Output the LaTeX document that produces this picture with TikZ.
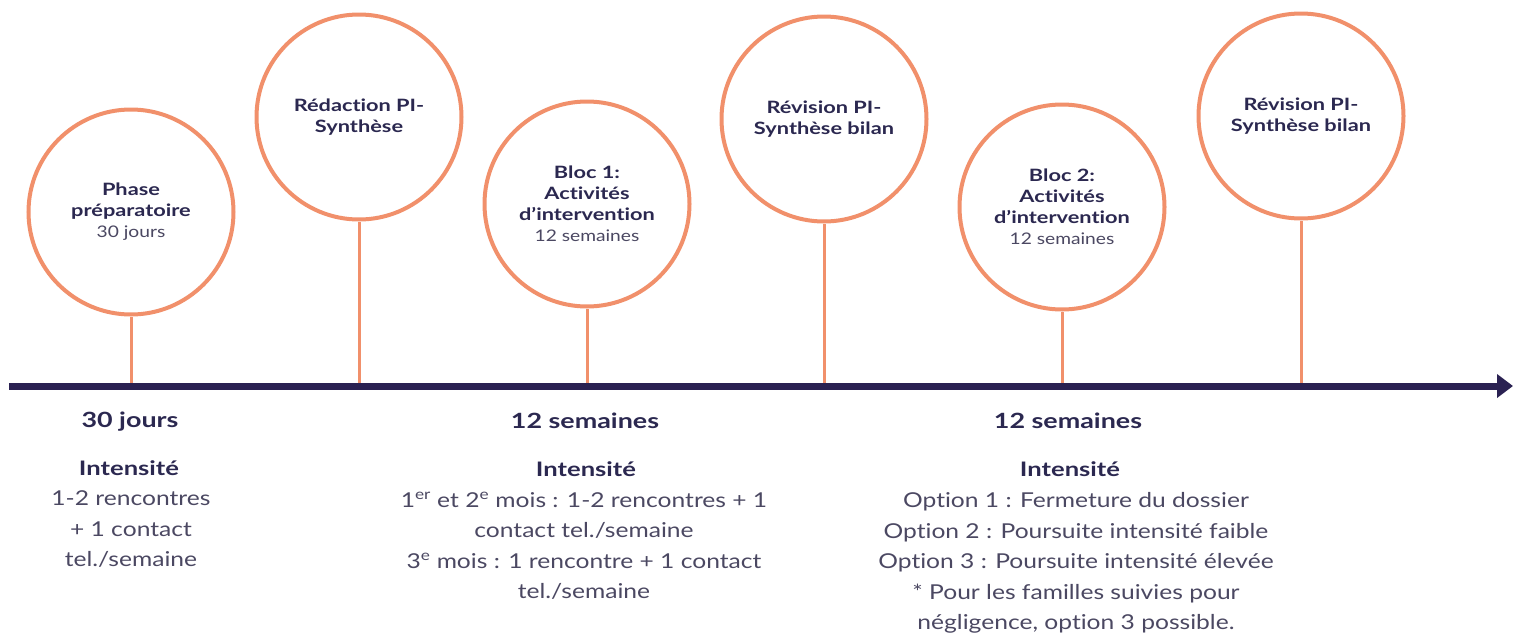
\documentclass[tikz,border=0pt]{standalone}
\usepackage{fontspec}
\setmainfont{Lato}[Ligatures={NoCommon,NoRare}]
\newfontfamily\bodyfont{Lato}[FakeStretch=1.2,Ligatures={NoCommon,NoRare}]
\newfontfamily\headfont{Lato}[FakeStretch=1.28,Ligatures={NoCommon,NoRare}]
\usetikzlibrary{arrows.meta}
\definecolor{orng}{HTML}{F1906B}
\definecolor{navy}{HTML}{2A2152}
\definecolor{ink}{HTML}{2B2850}
\definecolor{softgray}{HTML}{4B4862}
\newcommand{\subtxt}[1]{{\bodyfont\mdseries\fontsize{16}{21}\selectfont\color{softgray}#1}}
\begin{document}
\begin{tikzpicture}[x=1pt,y=-1pt,
  phase/.style={circle, draw=orng, line width=4pt, minimum size=205pt, inner sep=0pt,
    align=center, text=ink, fill=white, font=\headfont\fontsize{17}{21}\selectfont\bfseries},
  stem/.style={draw=orng, line width=3pt},
  axisline/.style={draw=navy, line width=7pt, -{Triangle[length=16pt,width=23pt]}},
  head/.style={font=\headfont\fontsize{21}{30}\selectfont\bfseries, text=ink, inner sep=0pt, anchor=base},
  intens/.style={font=\headfont\fontsize{20}{30}\selectfont\bfseries, text=ink, inner sep=0pt, anchor=base},
  body/.style={font=\bodyfont\fontsize{20.5}{30.5}\selectfont, text=softgray, align=center, inner sep=0pt, anchor=north}
]
\useasboundingbox (0,0) rectangle (1513,635);

% phases
\node[phase] (c1) at (131,212) {Phase\\préparatoire\\\subtxt{30 jours}};
\node[phase] (c2) at (359,117) {Rédaction PI-\\Synthèse};
\node[phase] (c3) at (587,204) {Bloc 1:\\Activités\\d’intervention\\\subtxt{12 semaines}};
\node[phase] (c4) at (824,119) {Révision PI-\\Synthèse bilan};
\node[phase] (c5) at (1062,207) {Bloc 2:\\Activités\\d’intervention\\\subtxt{12 semaines}};
\node[phase] (c6) at (1301,116) {Révision PI-\\Synthèse bilan};

% axis points
\coordinate (axs) at (9,386);
\coordinate (axe) at (1513,386);
\coordinate (t1) at (131,386);
\coordinate (t2) at (359,386);
\coordinate (t3) at (587,386);
\coordinate (t4) at (824,386);
\coordinate (t5) at (1062,386);
\coordinate (t6) at (1301,386);

\foreach \i in {1,...,6} { \draw[stem] (c\i) -- (t\i); }
\draw[axisline] (axs) -- (axe);

% bottom texts
\node[head] (d1) at (130,427) {30 jours};
\node[intens] (i1) at (129,475) {Intensité};
\node[body] (b1) at (131,490.5) {1-2 rencontres\\+ 1 contact\\tel./semaine};

\node[head] (d2) at (585,428) {12 semaines};
\node[intens] (i2) at (586,476) {Intensité};
\node[body] (b2) at (584,492) {1\textsuperscript{er} et 2\textsuperscript{e} mois : 1-2 rencontres + 1\\contact tel./semaine\\3\textsuperscript{e} mois : 1 rencontre + 1 contact\\tel./semaine};

\node[head] (d3) at (1068,428) {12 semaines};
\node[intens] (i3) at (1070,476) {Intensité};
\node[body] (b3) at (1076,492.5) {Option 1 : Fermeture du dossier\\Option 2 : Poursuite intensité faible\\Option 3 : Poursuite intensité élevée\\* Pour les familles suivies pour\\négligence, option 3 possible.};
\end{tikzpicture}
\end{document}
